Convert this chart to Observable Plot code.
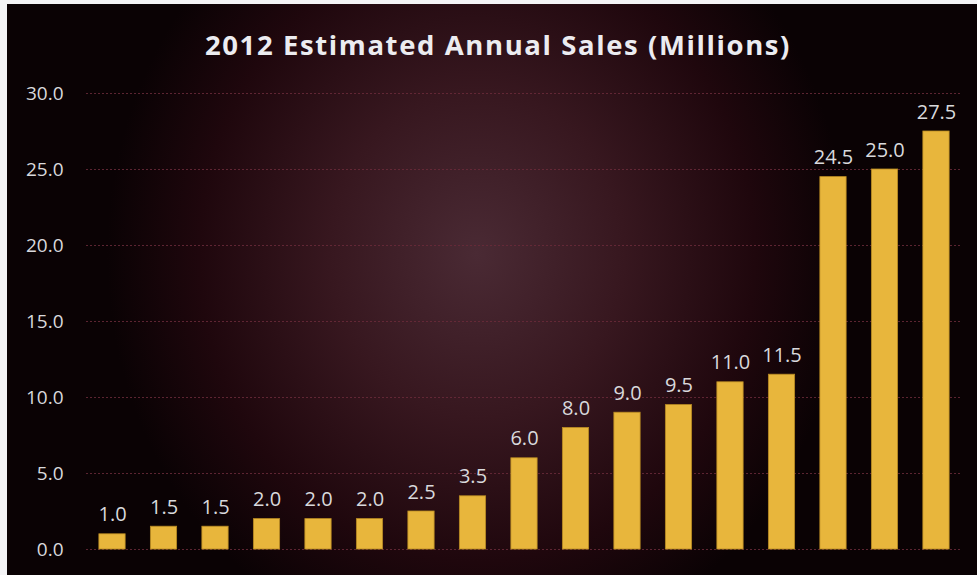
<!DOCTYPE html>
<html>
<head>
<meta charset="utf-8">
<script src="https://cdn.jsdelivr.net/npm/d3@7"></script>
<script src="https://cdn.jsdelivr.net/npm/@observablehq/plot@0.6"></script>
<style>
  html, body { margin: 0; padding: 0; background: #f4f4f6; }
  #frame {
    position: absolute; left: 7px; top: 4px; width: 970px; height: 571px;
    background: radial-gradient(ellipse 370px 410px at 470px 250px, #4a2a34 0%, #37171f 40%, #1f070d 75%, #0a0204 100%);
    overflow: hidden;
  }
  #title {
    position: absolute; left: 0; top: 25px; width: 982px; text-align: center;
    font-family: "Open Sans", sans-serif; font-weight: 700; font-size: 27.5px;
    color: #ececf0; letter-spacing: 1.6px; line-height: 32px;
  }
  #chart { position: absolute; left: 0; top: 66px; }
</style>
</head>
<body>
<div id="frame">
  <div id="title">2012 Estimated Annual Sales (Millions)</div>
  <div id="chart"></div>
</div>
<script>
const categories = ["A","B","C","D","E","F","G","H","I","J","K","L","M","N","O","P","Q"];
const sales = [1.0, 1.5, 1.5, 2.0, 2.0, 2.0, 2.5, 3.5, 6.0, 8.0, 9.0, 9.5, 11.0, 11.5, 24.5, 25.0, 27.5];
const yTicks = [0, 5, 10, 15, 20, 25, 30];

const data = categories.map((c, i) => ({cat: c, value: sales[i]}));

const chart = Plot.plot({
  width: 970,
  height: 509,
  marginLeft: 79,
  marginRight: 15,
  marginTop: 23,
  marginBottom: 30,
  style: {background: "transparent", fontFamily: "'Open Sans', sans-serif", color: "#d6d6da"},
  x: {domain: categories, paddingInner: 0.49, paddingOuter: 0.25, round: false, axis: null},
  y: {domain: [0, 30], ticks: yTicks, tickFormat: d => d.toFixed(1)},
  marks: [
    Plot.ruleY(yTicks, {stroke: "#6a2a3a", strokeOpacity: 0.85, strokeDasharray: "2,2", strokeWidth: 1}),
    Plot.barY(data, {x: "cat", y: "value", fill: "#e8b63c", stroke: "#b88a22", strokeWidth: 0.8}),
    Plot.text(data, {x: "cat", y: "value", text: d => d.value.toFixed(1), lineAnchor: "bottom", dy: -13, fill: "#d9d9dc", fontSize: 20}),
    Plot.axisY({ticks: yTicks, tickFormat: d => d.toFixed(1), tickSize: 0, tickPadding: 23, fontSize: 19, fill: "#d9d9dc", label: null})
  ]
});
document.getElementById("chart").appendChild(chart);
</script>
</body>
</html>
